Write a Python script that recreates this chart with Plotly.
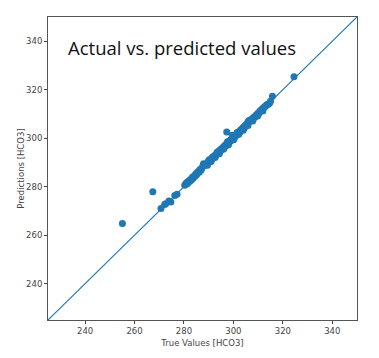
import plotly.graph_objects as go

axis_range = [225, 350]
tick_vals = [240, 260, 280, 300, 320, 340]

true_values = [
    255.1, 267.4, 270.7, 272.2, 272.6, 273.9, 274.7, 276.3, 277.2,
    280.3, 280.6, 281.1, 281.4, 281.9, 282.3, 282.6, 283.0, 283.4, 283.7,
    284.1, 284.4, 284.8, 285.1, 285.5, 285.8, 286.2, 286.5, 286.9, 287.2,
    287.6, 287.9, 288.3, 288.6, 289.0, 289.3, 289.7, 290.0, 290.4, 290.7,
    291.1, 291.4, 291.8, 292.1, 292.5, 292.8, 293.2, 293.5, 293.9, 294.2,
    294.6, 294.9, 295.3, 295.6, 296.0, 296.3, 296.7, 297.0, 297.3, 297.4,
    297.8, 298.1, 298.5, 298.8, 299.2, 299.5, 299.9, 300.2, 300.6, 300.9,
    301.3, 301.6, 302.0, 302.3, 302.7, 303.0, 303.4, 303.7, 304.1, 304.4,
    304.8, 305.1, 305.5, 305.8, 306.1, 306.5, 306.8, 307.2, 307.5, 307.9,
    308.2, 308.6, 308.9, 309.3, 309.6, 310.0, 310.3, 310.7, 311.0, 311.4,
    311.7, 312.1, 312.4, 312.8, 313.1, 313.5, 313.8, 314.3, 314.7, 315.0,
    315.8, 324.5,
    289.5, 291.0, 292.6, 294.3, 296.1, 298.0, 300.1, 302.2, 304.0, 305.9,
    307.8, 309.8, 311.9, 290.2, 293.4, 297.6, 301.5, 306.7,
]
predictions = [
    264.8, 277.9, 271.0, 272.6, 273.0, 274.1, 273.7, 276.4, 276.9,
    280.6, 281.0, 281.7, 281.2, 282.3, 282.1, 283.0, 282.8, 283.9, 283.5,
    284.4, 284.2, 285.3, 284.9, 285.8, 286.3, 286.0, 287.1, 286.8, 287.6,
    288.4, 289.5, 288.6, 289.0, 289.4, 289.1, 290.2, 290.5, 290.3, 291.2,
    291.0, 291.9, 292.3, 292.0, 293.0, 292.7, 293.6, 293.9, 294.1, 294.8,
    294.5, 295.4, 295.2, 296.1, 296.2, 296.8, 296.6, 297.5, 302.6, 297.2,
    298.3, 298.0, 299.0, 298.7, 299.7, 301.2, 300.0, 300.7, 300.5, 301.4,
    301.2, 302.1, 301.9, 302.8, 302.6, 303.5, 303.8, 304.0, 304.6, 304.2,
    305.3, 305.0, 306.0, 306.5, 307.1, 306.9, 307.2, 307.6, 307.4, 308.3,
    308.1, 309.0, 308.8, 309.7, 309.5, 310.4, 310.2, 311.1, 311.4, 311.7,
    312.1, 312.3, 312.8, 313.1, 313.4, 313.7, 314.0, 314.1, 314.6, 315.2,
    317.3, 325.4,
    288.8, 290.4, 292.0, 293.6, 295.5, 297.3, 299.4, 301.6, 303.3, 305.2,
    307.1, 309.2, 311.2, 291.1, 294.2, 298.5, 302.3, 307.5,
]

blue = "#1f77b4"

fig = go.Figure()
fig.add_trace(go.Scatter(
    x=true_values, y=predictions, mode="markers",
    marker=dict(size=7, color=blue, line=dict(width=0)),
    showlegend=False, hoverinfo="skip",
))
fig.add_trace(go.Scatter(
    x=axis_range, y=axis_range, mode="lines",
    line=dict(color=blue, width=1.2),
    showlegend=False, hoverinfo="skip",
))

axis_common = dict(
    range=axis_range, tickvals=tick_vals, ticks="outside", ticklen=3,
    tickcolor="#444", tickwidth=1, showgrid=False, zeroline=False,
    showline=True, linecolor="#555", linewidth=1, mirror=True,
    tickfont=dict(family="DejaVu Sans", size=8.5, color="#444"),
    title_font=dict(family="DejaVu Sans", size=8.5, color="#444"),
)

fig.update_layout(
    width=379, height=358,
    margin=dict(l=48, r=22, t=17, b=32),
    paper_bgcolor="white", plot_bgcolor="white",
    xaxis=dict(axis_common, title=dict(text="True Values [HCO3]", standoff=4)),
    yaxis=dict(axis_common, title=dict(text="Predictions [HCO3]", standoff=0)),
    annotations=[dict(
        text="Actual vs. predicted values", xref="paper", yref="paper",
        x=0.058, y=0.9, xanchor="left", yanchor="middle", showarrow=False,
        font=dict(family="Open Sans", size=18.5, color="#111"),
    )],
)

fig.write_html("out.html")
